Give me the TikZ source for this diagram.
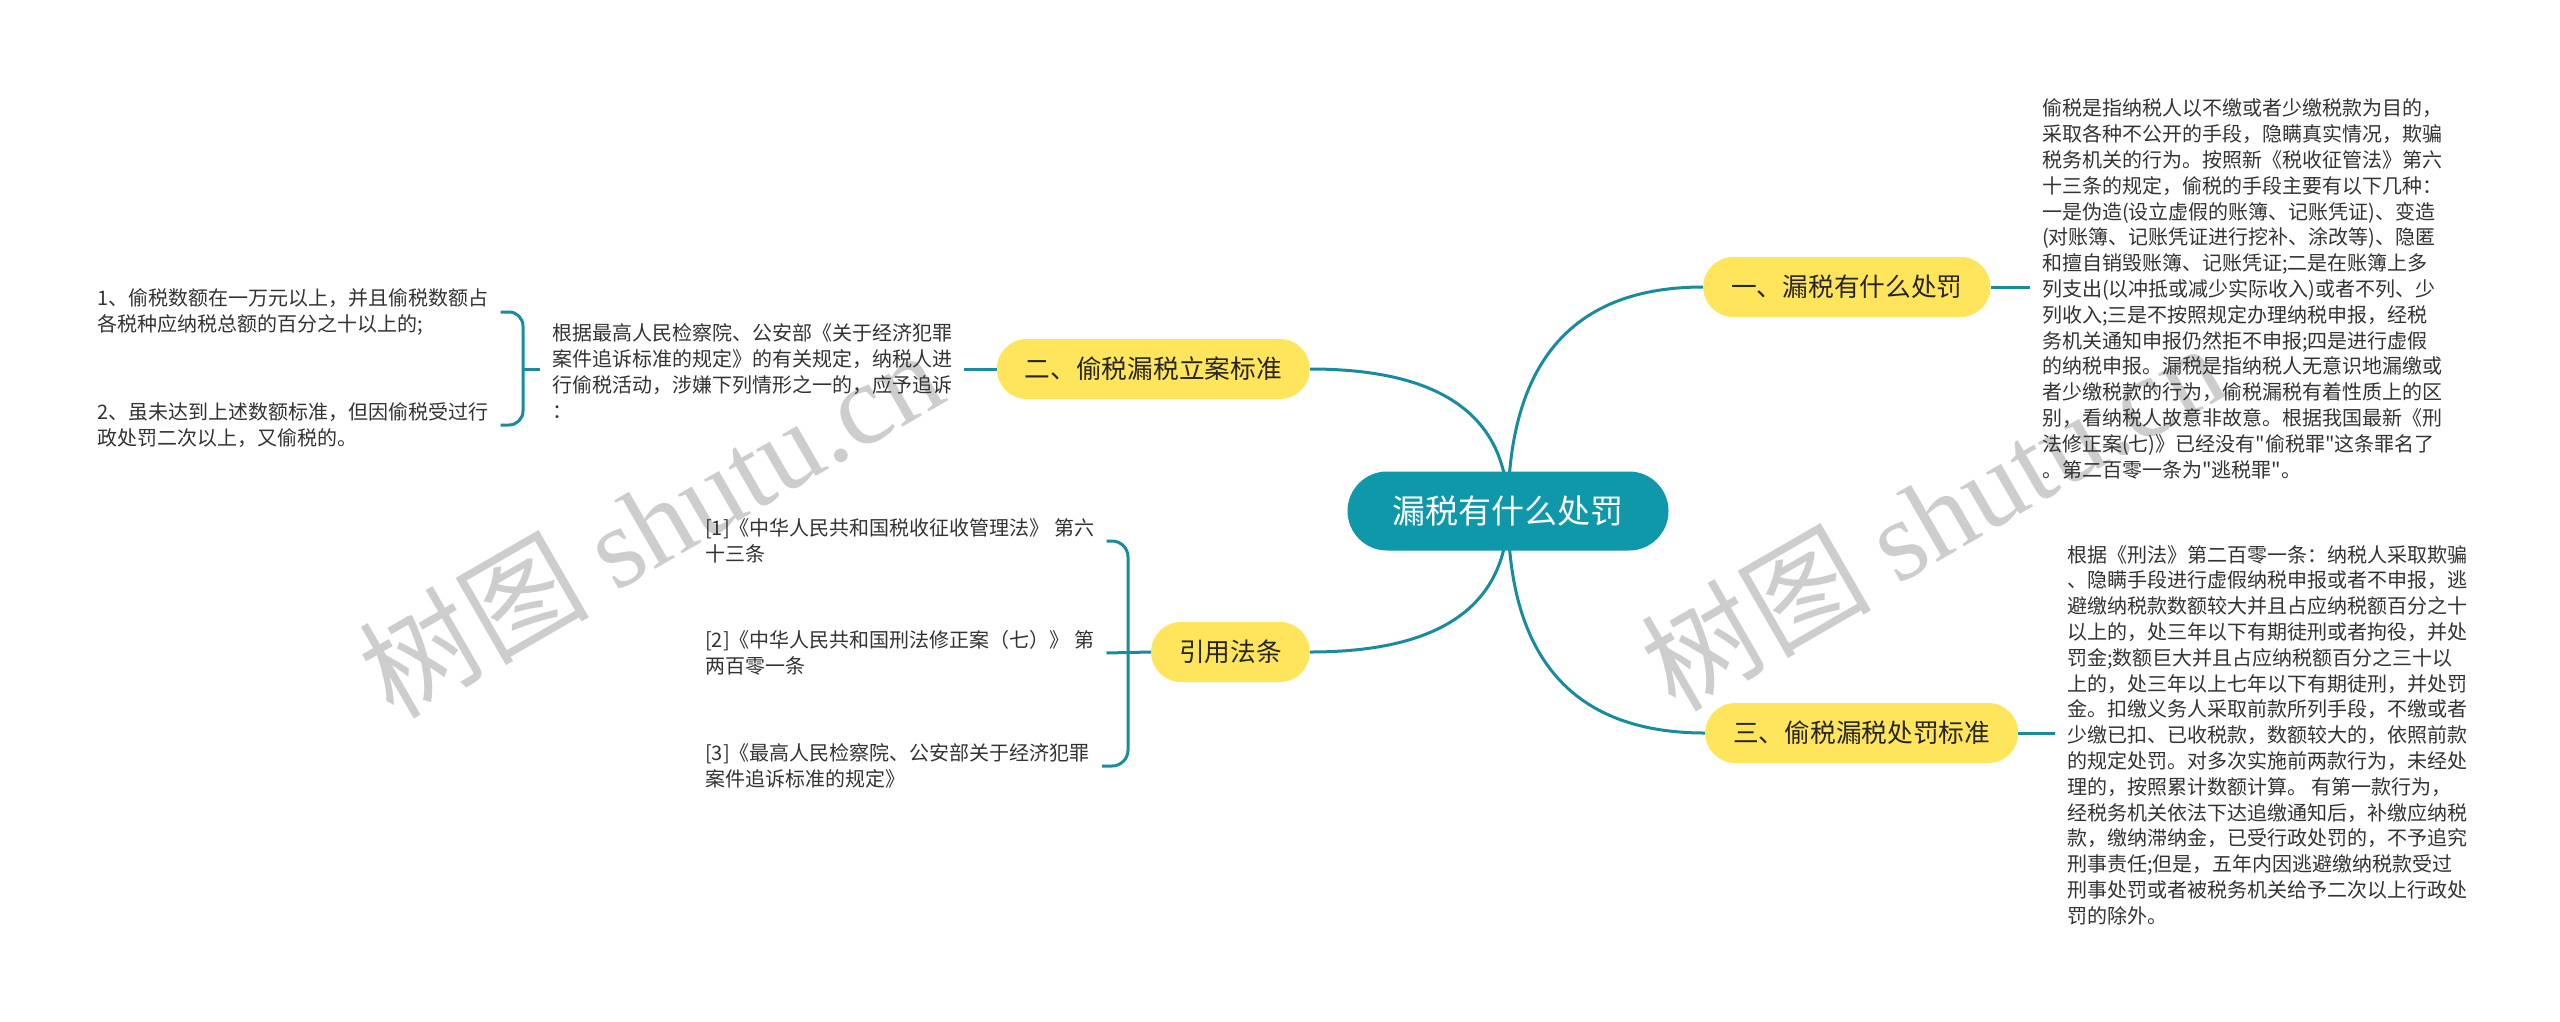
\documentclass[tikz,border=0pt]{standalone}
\usepackage{fontspec}
\setmainfont{Noto Sans CJK SC}[Ligatures=TeXOff]
\newfontfamily\wmserif{Liberation Serif}
\usetikzlibrary{calc,backgrounds}
\definecolor{rootteal}{RGB}{14,152,170}
\definecolor{linkteal}{RGB}{24,140,158}
\definecolor{pillyellow}{RGB}{255,229,92}
\definecolor{wmgray}{RGB}{205,205,205}
\tikzset{
  root/.style={fill=rootteal, text=white, rounded corners=39.5pt, minimum height=79pt,
    inner xsep=45pt, font=\fontsize{33}{40}\selectfont},
  branch/.style={fill=pillyellow, text=black!85, rounded corners=30pt, minimum height=60pt,
    inner xsep=28pt, font=\fontsize{25.7}{30}\selectfont},
  leaf/.style={align=left, anchor=west, inner xsep=12pt, inner ysep=0pt, text=black!80,
    font=\fontsize{20}{25.8}\selectfont},
  link/.style={draw=linkteal, line width=3pt},
  watermark/.style={text=wmgray, rotate=30, font=\fontsize{115}{125}\selectfont}
}
\begin{document}
\begin{tikzpicture}[x=1pt, y=-1pt]
  \useasboundingbox (0,0) rectangle (2560,1021);

  % main topic and branches
  \node[root] (root) at (1508,511) {漏税有什么处罚};
  \node[branch, anchor=west] (b1) at (1703,287) {一、漏税有什么处罚};
  \node[branch, anchor=east] (b2) at (1310,369) {二、偷税漏税立案标准};
  \node[branch, anchor=east] (bref) at (1310,652) {引用法条};
  \node[branch, anchor=west] (b3) at (1705,733) {三、偷税漏税处罚标准};

  % right side texts
  \node[leaf] (t1) at (2030,289) {偷税是指纳税人以不缴或者少缴税款为目的，\\
    采取各种不公开的手段，隐瞒真实情况，欺骗\\
    税务机关的行为。按照新《税收征管法》第六\\
    十三条的规定，偷税的手段主要有以下几种：\\
    一是伪造(设立虚假的账簿、记账凭证)、变造\\
    (对账簿、记账凭证进行挖补、涂改等)、隐匿\\
    和擅自销毁账簿、记账凭证;二是在账簿上多\\
    列支出(以冲抵或减少实际收入)或者不列、少\\
    列收入;三是不按照规定办理纳税申报，经税\\
    务机关通知申报仍然拒不申报;四是进行虚假\\
    的纳税申报。漏税是指纳税人无意识地漏缴或\\
    者少缴税款的行为，偷税漏税有着性质上的区\\
    别，看纳税人故意非故意。根据我国最新《刑\\
    法修正案(七)》已经没有"偷税罪"这条罪名了\\
    。第二百零一条为"逃税罪"。};
  \node[leaf] (t3) at (2055,735) {根据《刑法》第二百零一条：纳税人采取欺骗\\
    、隐瞒手段进行虚假纳税申报或者不申报，逃\\
    避缴纳税款数额较大并且占应纳税额百分之十\\
    以上的，处三年以下有期徒刑或者拘役，并处\\
    罚金;数额巨大并且占应纳税额百分之三十以\\
    上的，处三年以上七年以下有期徒刑，并处罚\\
    金。扣缴义务人采取前款所列手段，不缴或者\\
    少缴已扣、已收税款，数额较大的，依照前款\\
    的规定处罚。对多次实施前两款行为，未经处\\
    理的，按照累计数额计算。 有第一款行为，\\
    经税务机关依法下达追缴通知后，补缴应纳税\\
    款，缴纳滞纳金，已受行政处罚的，不予追究\\
    刑事责任;但是，五年内因逃避缴纳税款受过\\
    刑事处罚或者被税务机关给予二次以上行政处\\
    罚的除外。};

  % left side texts
  \node[leaf] (t2) at (540,371) {根据最高人民检察院、公安部《关于经济犯罪\\
    案件追诉标准的规定》的有关规定，纳税人进\\
    行偷税活动，涉嫌下列情形之一的，应予追诉\\
    ：};
  \node[leaf] (i1) at (85,312) {1、偷税数额在一万元以上，并且偷税数额占\\
    各税种应纳税总额的百分之十以上的;};
  \node[leaf] (i2) at (85,425) {2、虽未达到上述数额标准，但因偷税受过行\\
    政处罚二次以上，又偷税的。};
  \node[leaf] (c1) at (693,541) {[1]《中华人民共和国税收征收管理法》 第六\\十三条};
  \node[leaf] (c2) at (693,653) {[2]《中华人民共和国刑法修正案（七）》 第\\两百零一条};
  \node[leaf] (c3) at (693,766) {[3]《最高人民检察院、公安部关于经济犯罪\\案件追诉标准的规定》};

  \coordinate (brL) at (523,369);
  \coordinate (brR) at (1128,652);

  % connectors
  \draw[link] (b1.east) -- (b1.east -| t1.west);
  \draw[link] (b3.east) -- (b3.east -| t3.west);
  \draw[link] (b2.west) -- (b2.west -| t2.east);
  \draw[link] (brL) -- (brL -| t2.west);
  \draw[link, rounded corners=14pt] (i1.east) -- (i1.east -| brL) -- (i2.east -| brL) -- (i2.east);
  \draw[link, rounded corners=16pt] (c1.east) -- (c1.east -| brR) -- (c3.east -| brR) -- (c3.east);
  \draw[link] (c2.east) -- (bref.west);

  \begin{scope}[on background layer]
    \fill[white] (0,0) rectangle (2560,1021);
    \node[watermark] (wm1) at (650,522) {树图 {\wmserif shutu.cn}};
    \node[watermark] (wm2) at (1932,515) {树图 {\wmserif shutu.cn}};
    % curved links from the main topic
    \foreach \b/\side in {b1/west, b3/west, b2/east, bref/east}
      \draw[link] (root.center) .. controls ($(root.center)!0.667!(root.center |- \b.\side)$)
        and ($(\b.\side)!0.667!(root.center |- \b.\side)$) .. (\b.\side);
  \end{scope}
\end{tikzpicture}
\end{document}
